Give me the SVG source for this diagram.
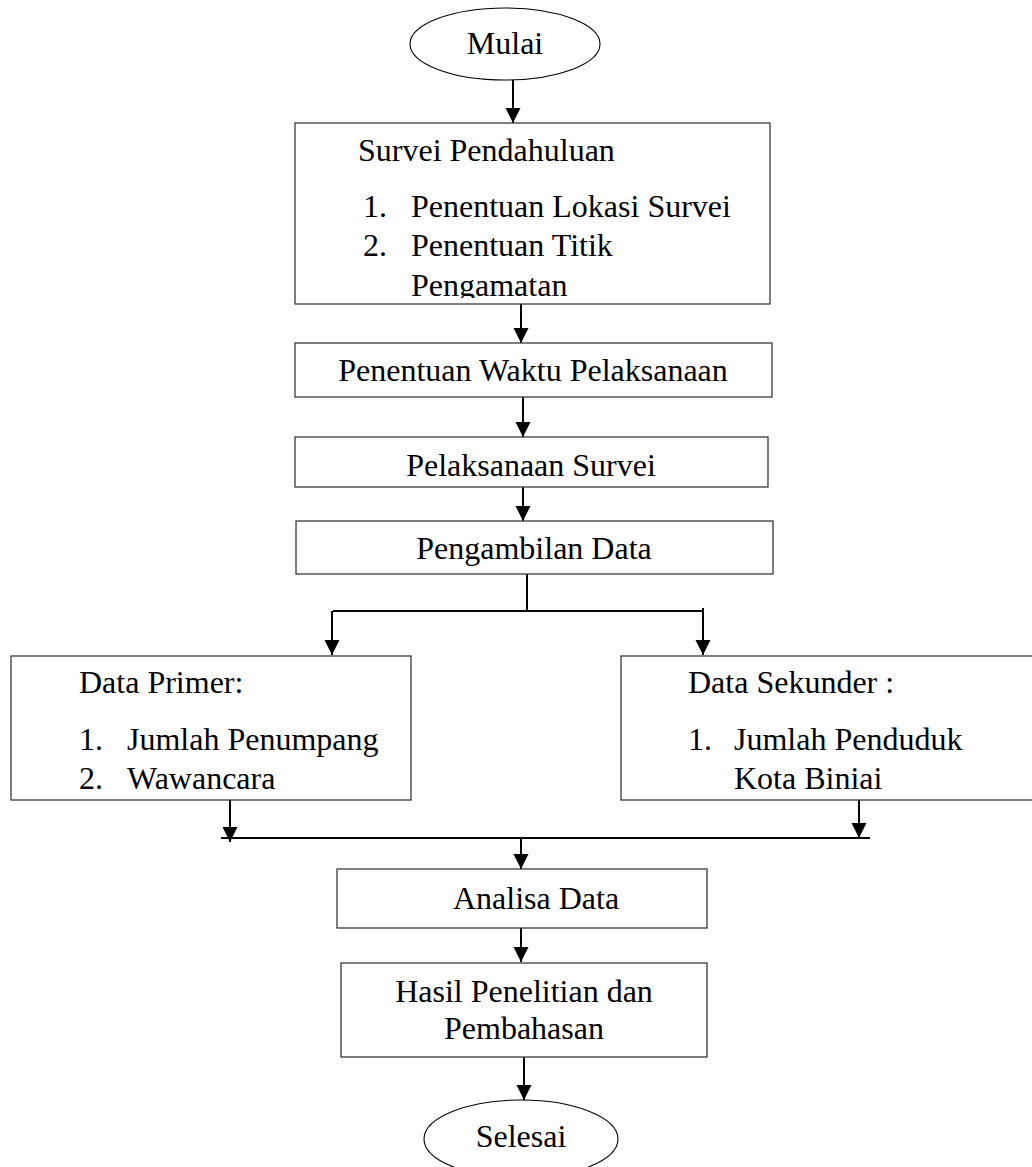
<svg xmlns="http://www.w3.org/2000/svg" width="1032" height="1167" viewBox="0 0 1032 1167">
<style>
  .box { fill: #ffffff; stroke: #3a3a3a; stroke-width: 1.3; }
  .term { fill: #ffffff; stroke: #000000; stroke-width: 1.1; }
  .t { font-family: "Liberation Serif", "Times New Roman", serif; font-size: 32px; fill: #000000; }
  .c { text-anchor: middle; }
  .ln { stroke: #000000; stroke-width: 2; fill: none; }
</style>
<defs>
  <marker id="ah" markerUnits="userSpaceOnUse" markerWidth="16" markerHeight="16" refX="15" refY="7.5" orient="auto">
    <path d="M0,0 L15,7.5 L0,15 z" fill="#000000"/>
  </marker>
  <clipPath id="clip1"><rect x="295" y="123" width="475" height="175"/></clipPath>
</defs>
<rect x="0" y="0" width="1032" height="1167" fill="#ffffff"/>

<g id="connectors">
  <line class="ln" x1="513" y1="80" x2="513" y2="123" marker-end="url(#ah)"/>
  <line class="ln" x1="521" y1="304" x2="521" y2="343" marker-end="url(#ah)"/>
  <line class="ln" x1="523" y1="396" x2="523" y2="437" marker-end="url(#ah)"/>
  <line class="ln" x1="523" y1="487" x2="523" y2="521" marker-end="url(#ah)"/>
  <line class="ln" x1="527" y1="574" x2="527" y2="611"/>
  <line class="ln" x1="333" y1="611" x2="703" y2="611"/>
  <line class="ln" x1="332" y1="611" x2="332" y2="655" marker-end="url(#ah)"/>
  <line class="ln" x1="703" y1="608" x2="703" y2="655" marker-end="url(#ah)"/>
  <line class="ln" x1="230" y1="800" x2="230" y2="842" marker-end="url(#ah)"/>
  <line class="ln" x1="859" y1="797" x2="859" y2="838" marker-end="url(#ah)"/>
  <line class="ln" x1="221" y1="838" x2="870" y2="838"/>
  <line class="ln" x1="521" y1="838" x2="521" y2="869" marker-end="url(#ah)"/>
  <line class="ln" x1="521" y1="928" x2="521" y2="962" marker-end="url(#ah)"/>
  <line class="ln" x1="524" y1="1055" x2="524" y2="1100" marker-end="url(#ah)"/>
</g>

<g id="mulai">
  <ellipse class="term" cx="505" cy="44" rx="95" ry="36"/>
  <text class="t c" x="505" y="54">Mulai</text>
</g>

<g id="survei-pendahuluan">
  <rect class="box" x="295" y="123" width="475" height="181"/>
  <g clip-path="url(#clip1)">
    <text class="t" x="358" y="161">Survei Pendahuluan</text>
    <text class="t" x="363" y="217">1.</text>
    <text class="t" x="411" y="217">Penentuan Lokasi Survei</text>
    <text class="t" x="363" y="256">2.</text>
    <text class="t" x="411" y="256">Penentuan Titik</text>
    <text class="t" x="411" y="296">Pengamatan</text>
  </g>
</g>

<g id="penentuan-waktu">
  <rect class="box" x="295" y="343" width="477" height="54"/>
  <text class="t c" x="533" y="381">Penentuan Waktu Pelaksanaan</text>
</g>

<g id="pelaksanaan-survei">
  <rect class="box" x="295" y="437" width="473" height="50"/>
  <text class="t c" x="531" y="476">Pelaksanaan Survei</text>
</g>

<g id="pengambilan-data">
  <rect class="box" x="296" y="521" width="477" height="53"/>
  <text class="t c" x="534" y="559">Pengambilan Data</text>
</g>

<g id="data-primer">
  <rect class="box" x="11" y="656" width="400" height="144"/>
  <text class="t" x="79" y="693">Data Primer:</text>
  <text class="t" x="79" y="750">1.</text>
  <text class="t" x="127" y="750">Jumlah Penumpang</text>
  <text class="t" x="79" y="789">2.</text>
  <text class="t" x="127" y="789">Wawancara</text>
</g>

<g id="data-sekunder">
  <rect class="box" x="621" y="656" width="420" height="144"/>
  <text class="t" x="688" y="693">Data Sekunder :</text>
  <text class="t" x="688" y="750">1.</text>
  <text class="t" x="734" y="750">Jumlah Penduduk</text>
  <text class="t" x="734" y="789">Kota Biniai</text>
</g>

<g id="analisa-data">
  <rect class="box" x="337" y="869" width="370" height="59"/>
  <text class="t c" x="536" y="909">Analisa Data</text>
</g>

<g id="hasil-penelitian">
  <rect class="box" x="341" y="963" width="366" height="94"/>
  <text class="t c" x="524" y="1002">Hasil Penelitian dan</text>
  <text class="t c" x="524" y="1039">Pembahasan</text>
</g>

<g id="selesai">
  <ellipse class="term" cx="521" cy="1139" rx="97" ry="39"/>
  <text class="t c" x="521" y="1147">Selesai</text>
</g>
</svg>
